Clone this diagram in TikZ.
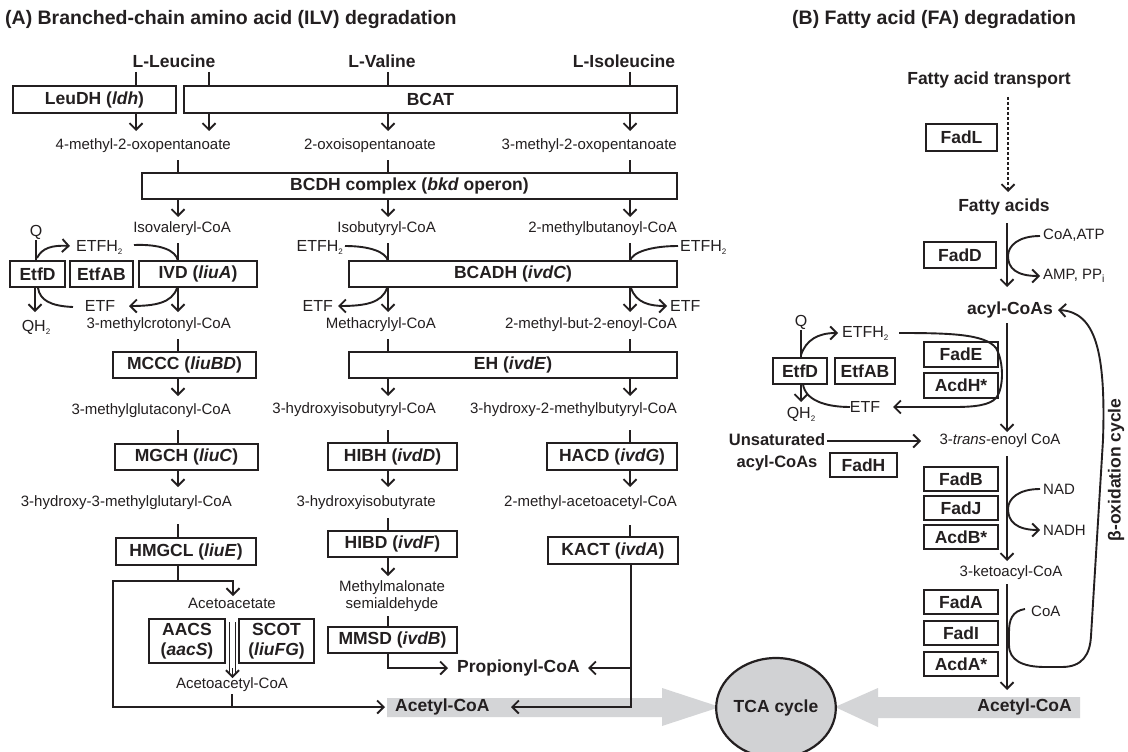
\documentclass[tikz,border=0pt]{standalone}
\usepackage{fontspec}
\setmainfont{Liberation Sans}
\usetikzlibrary{arrows.meta,shapes.geometric}
\definecolor{ink}{HTML}{231F20}
\definecolor{graybar}{HTML}{D4D5D7}
\definecolor{tcafill}{HTML}{D1D2D4}
\newcommand\fsreg{\fontsize{15}{17}\selectfont}
\newcommand\fsbold{\fontsize{17.5}{20}\selectfont\bfseries}
\newcommand\fstitle{\fontsize{19.5}{22}\selectfont\bfseries}
\newcommand\fsetf{\fontsize{16}{18}\selectfont}
\newcommand\lowtwo{\raisebox{-3pt}{\fontsize{8}{8}\selectfont 2}}
\newcommand\mybox[6]{\node[ebox, minimum width={(#4)-(#2)}, minimum height={(#5)-(#3)}] (#1) at ({((#2)+(#4))/2},{((#3)+(#5))/2}) {#6};}
\tikzset{
  ln/.style={draw=ink, line width=1.9pt},
  arr/.style={ln, -{Straight Barb[length=6.5pt,width=13pt]}},
  ebox/.style={draw=ink, line width=2.2pt, inner sep=0pt, font=\fsbold, text=ink, align=center},
  met/.style={inner sep=0pt, font=\fsreg, text=ink},
  bl/.style={inner sep=0pt, font=\fsbold, text=ink},
  etf/.style={inner sep=0pt, font=\fsetf, text=ink},
}
\begin{document}
\begin{tikzpicture}[x=1pt,y=-1pt]
\useasboundingbox (0,0) rectangle (1128,752);
\fill[white] (0,0) rectangle (1128,752);

% titles
\node[inner sep=0, font=\fstitle, text=ink, anchor=west] (titA) at (5,20) {(A) Branched-chain amino acid (ILV) degradation};
\node[inner sep=0, font=\fstitle, text=ink, anchor=west] (titB) at (792,20) {(B) Fatty acid (FA) degradation};

% gray arrows to TCA
\fill[graybar] (387,698) -- (662,698) -- (662,688) -- (720,707) -- (662,726) -- (662,717) -- (387,717) -- cycle;
\fill[graybar] (1080,697) -- (878,697) -- (878,688) -- (835,707) -- (878,727) -- (878,718) -- (1080,718) -- cycle;
\node[ellipse, draw=ink, line width=2.2pt, fill=tcafill, minimum width=108pt, minimum height=100pt, inner sep=0, font=\fsbold, text=ink] (tca) at (776,708) {TCA cycle};

% ===== (A) =====
\node[bl] (leu) at (174,61) {L-Leucine};
\node[bl] (val) at (382,61) {L-Valine};
\node[bl] (ile) at (624,61) {L-Isoleucine};
\draw[ln] (136,72) -- (136,86);
\draw[ln] (209,72) -- (209,86);
\draw[ln] (388,72) -- (388,86);
\draw[ln] (630,72) -- (630,86);
\mybox{leudh}{13}{86}{176}{113}{LeuDH (\textit{ldh})}
\mybox{bcat}{184}{86}{677}{113}{BCAT}
\draw[arr] (136,113) -- (136,131);
\draw[arr] (209,113) -- (209,131);
\draw[arr] (388,113) -- (388,131);
\draw[arr] (630,113) -- (630,131);
\node[met, anchor=east] (m1a) at (231,146) {4-methyl-2-oxopentanoate};
\node[met, anchor=east] (m1b) at (436,146) {2-oxoisopentanoate};
\node[met, anchor=east] (m1c) at (677,146) {3-methyl-2-oxopentanoate};
\draw[ln] (178,160) -- (178,173);
\draw[ln] (388,160) -- (388,173);
\draw[ln] (630,160) -- (630,173);
\mybox{bcdh}{142}{173}{677}{199}{BCDH complex (\textit{bkd} operon)}
\draw[arr] (178,199) -- (178,217);
\draw[arr] (388,199) -- (388,217);
\draw[arr] (630,199) -- (630,217);
\node[met, anchor=east] (m2a) at (231,229) {Isovaleryl-CoA};
\node[met, anchor=east] (m2b) at (436,229) {Isobutyryl-CoA};
\node[met, anchor=east] (m2c) at (677,229) {2-methylbutanoyl-CoA};
% ETF system A
\node[etf] (qa) at (36,232) {Q};
\node[etf, anchor=west] (etfh2a) at (76,247) {ETFH\lowtwo};
\node[etf] (etfa) at (100,306) {ETF};
\node[etf] (qh2a) at (36,327) {QH\lowtwo};
\mybox{etfda}{10}{261}{65}{287}{EtfD}
\mybox{etfaba}{70}{261}{133}{287}{EtfAB}
\mybox{ivd}{139}{261}{257}{287}{IVD (\textit{liuA})}
\mybox{bcadh}{349}{261}{677}{287}{BCADH (\textit{ivdC})}
\draw[ln] (36,240) -- (36,261);
\draw[arr] (37,258) .. controls (42,248) and (52,245) .. (70,246);
\draw[ln] (134,245) .. controls (160,244) and (176,250) .. (178,261);
\draw[ln] (178,243) -- (178,261);
\draw[arr] (178,287) -- (178,312);
\draw[arr] (177,288) .. controls (172,303) and (155,306) .. (129,306);
\draw[ln] (73,307) .. controls (50,306) and (40,300) .. (38,288);
\draw[arr] (35,287) -- (35,312);
% valine / isoleucine ETF
\node[etf, anchor=east] (etfh2v) at (343,247) {ETFH\lowtwo};
\node[etf, anchor=east] (etfv) at (333,306) {ETF};
\node[etf, anchor=west] (etfh2i) at (680,247) {ETFH\lowtwo};
\node[etf, anchor=west] (etfi) at (670,306) {ETF};
\draw[ln] (388,243) -- (388,261);
\draw[ln] (630,243) -- (630,261);
\draw[ln] (345,246) .. controls (370,246) and (386,252) .. (388,261);
\draw[ln] (678,246) .. controls (652,246) and (632,252) .. (630,261);
\draw[arr] (388,287) -- (388,312);
\draw[arr] (630,287) -- (630,312);
\draw[arr] (387,288) .. controls (382,303) and (365,306) .. (338,306);
\draw[arr] (631,288) .. controls (636,303) and (650,306) .. (667,306);
\node[met, anchor=east] (m3a) at (231,325) {3-methylcrotonyl-CoA};
\node[met, anchor=east] (m3b) at (436,325) {Methacrylyl-CoA};
\node[met, anchor=east] (m3c) at (677,325) {2-methyl-but-2-enoyl-CoA};
\draw[ln] (178,339) -- (178,352);
\draw[ln] (388,339) -- (388,352);
\draw[ln] (630,339) -- (630,352);
\mybox{mccc}{113}{352}{256}{378}{MCCC (\textit{liuBD})}
\mybox{eh}{349}{352}{677}{378}{EH (\textit{ivdE})}
\draw[arr] (178,378) -- (178,396);
\draw[arr] (388,378) -- (388,396);
\draw[arr] (630,378) -- (630,396);
\node[met, anchor=east] (m4a) at (231,411) {3-methylglutaconyl-CoA};
\node[met, anchor=east] (m4b) at (436,410) {3-hydroxyisobutyryl-CoA};
\node[met, anchor=east] (m4c) at (677,410) {3-hydroxy-2-methylbutyryl-CoA};
\draw[ln] (178,430) -- (178,444);
\draw[ln] (388,430) -- (388,443);
\draw[ln] (630,430) -- (630,443);
\mybox{mgch}{115}{444}{258}{470}{MGCH (\textit{liuC})}
\mybox{hibh}{328}{443}{457}{470}{HIBH (\textit{ivdD})}
\mybox{hacd}{547}{443}{677}{470}{HACD (\textit{ivdG})}
\draw[arr] (178,470) -- (178,487);
\draw[arr] (388,470) -- (388,487);
\draw[arr] (630,470) -- (630,487);
\node[met, anchor=east] (m5a) at (232,503) {3-hydroxy-3-methylglutaryl-CoA};
\node[met, anchor=east] (m5b) at (436,503) {3-hydroxyisobutyrate};
\node[met, anchor=east] (m5c) at (677,503) {2-methyl-acetoacetyl-CoA};
\draw[ln] (178,524) -- (178,538);
\draw[ln] (388,518) -- (388,531);
\draw[ln] (630,525) -- (630,537);
\mybox{hmgcl}{116}{538}{256}{565}{HMGCL (\textit{liuE})}
\mybox{hibd}{328}{531}{457}{557}{HIBD (\textit{ivdF})}
\mybox{kact}{548}{537}{678}{564}{KACT (\textit{ivdA})}
% leucine bottom
\draw[arr] (178,565) -- (178,581) -- (233,581) -- (233,596);
\draw[arr] (178,581) -- (113,581) -- (113,707) -- (385,707);
\node[met] (acac) at (232,603) {Acetoacetate};
\mybox{aacs}{149}{619}{225}{663}{AACS\\(\textit{aacS})}
\mybox{scot}{239}{619}{314}{663}{SCOT\\(\textit{liuFG})}
\draw[ln, line width=1.4pt] (229.5,622) -- (229.5,673);
\draw[ln, line width=1.4pt] (235.5,622) -- (235.5,673);
\draw[arr] (232.5,668) -- (232.5,678);
\node[met] (acacoa) at (232,685) {Acetoacetyl-CoA};
\draw[ln] (232,694) -- (232,707);
% valine bottom
\draw[arr] (388,557) -- (388,576);
\node[met, align=center] (mmsa) at (392,596) {Methylmalonate\\semialdehyde};
\draw[ln] (388,616) -- (388,627);
\mybox{mmsd}{328}{627}{457}{653}{MMSD (\textit{ivdB})}
\node[bl, anchor=west] (prop) at (457,668) {Propionyl-CoA};
\draw[arr] (388,653) -- (388,668) -- (448,668);
\draw[arr] (631,564) -- (631,707) -- (511,707);
\draw[arr] (631,668) -- (588,668);
\node[bl, anchor=west] (acetA) at (395,707) {Acetyl-CoA};

% ===== (B) =====
\node[bl] (fat) at (989,80) {Fatty acid transport};
\mybox{fadl}{926}{124}{997}{151}{FadL}
\draw[arr, dash pattern=on 3pt off 2pt] (1008,97) -- (1008,192);
\node[bl] (fa) at (1004,207) {Fatty acids};
\mybox{fadd}{924}{242}{996}{268}{FadD}
\draw[arr] (1007,223) -- (1007,287);
\node[met, anchor=west] (coaatp) at (1043,235) {CoA,ATP};
\node[met, anchor=west] (amp) at (1043,276) {AMP, PP\textsubscript{i}};
\draw[arr] (1040,236) .. controls (1018,236) and (1008,246) .. (1008,256) .. controls (1008,268) and (1016,276) .. (1040,276);
\node[bl] (acyl) at (1010,310) {acyl-CoAs};
% ETF system B
\node[etf] (qb) at (801,322) {Q};
\node[etf, anchor=west] (etfh2b) at (842,333) {ETFH\lowtwo};
\node[etf] (etfb) at (865,407) {ETF};
\node[etf] (qh2b) at (801,414) {QH\lowtwo};
\mybox{etfdb}{773}{358}{827}{384}{EtfD}
\mybox{etfabb}{835}{358}{895}{384}{EtfAB}
\mybox{fade}{924}{342}{998}{367}{FadE}
\mybox{acdh}{924}{373}{998}{398}{AcdH*}
\draw[ln] (801,330) -- (801,358);
\draw[arr] (801,355) .. controls (806,340) and (818,333) .. (838,333);
\draw[arr] (899,333) .. controls (950,333) and (985,334) .. (996,348) .. controls (1004,362) and (1004,388) .. (996,398) .. controls (990,405) and (975,407) .. (955,407) -- (893,407);
\draw[ln] (850,407) .. controls (825,407) and (805,400) .. (803,384);
\draw[arr] (801,384) -- (801,402);
\draw[arr] (1007,323) -- (1007,432);
\node[met] (enoyl) at (1000,441) {3-\textit{trans}-enoyl CoA};
\node[inner sep=0pt, text=ink, font=\fontsize{16.5}{22}\selectfont\bfseries, align=center] (unsat) at (777,452) {Unsaturated\\acyl-CoAs};
\draw[arr] (827,441) -- (921,441);
\mybox{fadh}{830}{453}{897}{477}{FadH}
\mybox{fadb}{924}{467}{998}{491}{FadB}
\mybox{fadj}{924}{496}{998}{520}{FadJ}
\mybox{acdb}{924}{525}{998}{549}{AcdB*}
\draw[arr] (1007,456) -- (1007,561);
\node[met, anchor=west] (nad) at (1043,489) {NAD};
\node[met, anchor=west] (nadh) at (1043,530) {NADH};
\draw[arr] (1040,489) .. controls (1018,489) and (1008,499) .. (1008,509) .. controls (1008,521) and (1016,530) .. (1040,530);
\node[met] (keto) at (1011,573) {3-ketoacyl-CoA};
\mybox{fada}{924}{590}{998}{614}{FadA}
\mybox{fadi}{924}{621}{998}{645}{FadI}
\mybox{acda}{924}{652}{998}{676}{AcdA*}
\draw[arr] (1007,584) -- (1007,690);
\node[met, anchor=west] (coa) at (1031,611) {CoA};
\draw[arr] (1025,609) .. controls (1012,611) and (1009,620) .. (1009,632) -- (1009,645) .. controls (1009,660) and (1022,667) .. (1045,667) -- (1062,667) .. controls (1082,667) and (1090,655) .. (1091,636) -- (1103,440) .. controls (1106,350) and (1095,312) .. (1058,310);
\node[bl, rotate=90] (beta) at (1116,470) {β-oxidation cycle};
\node[bl, anchor=east] (acetB) at (1072,707) {Acetyl-CoA};
\end{tikzpicture}
\end{document}
